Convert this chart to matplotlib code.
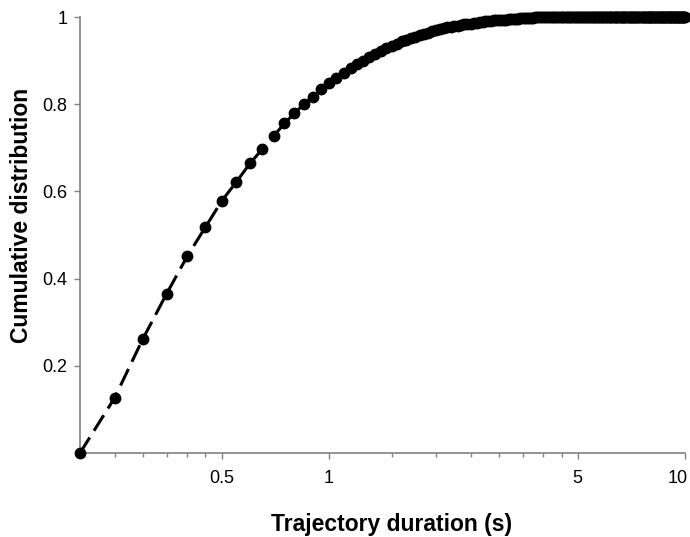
import numpy as np
import matplotlib
matplotlib.use("Agg")
import matplotlib.pyplot as plt
from matplotlib.ticker import FixedLocator, NullFormatter
from matplotlib.transforms import ScaledTranslation

plt.rcParams['font.family'] = ['Liberation Sans', 'DejaVu Sans']

# trajectory durations sampled every 0.05 s from 0.2 s to 10 s
duration = np.round(np.linspace(0.2, 10.0, 197), 2)

cdf = [
    0.000, 0.126, 0.261, 0.365, 0.451, 0.518, 0.578, 0.622, 0.664, 0.697,
    0.727, 0.756, 0.779, 0.800, 0.817, 0.834, 0.848, 0.860, 0.871, 0.882,
    0.892, 0.900, 0.908, 0.915, 0.922, 0.928, 0.934, 0.939, 0.944, 0.948,
    0.952, 0.955, 0.958, 0.961, 0.964, 0.967, 0.970, 0.972, 0.974, 0.976,
    0.977, 0.979, 0.980, 0.982, 0.983, 0.984, 0.985, 0.986, 0.987, 0.988,
    0.989, 0.990, 0.990, 0.991, 0.992, 0.992, 0.993, 0.993, 0.994, 0.994,
    0.995, 0.995, 0.996, 0.996, 0.996, 0.997, 0.997, 0.997, 0.998, 0.998,
    0.998, 0.998, 0.999, 0.999, 0.999, 0.999, 0.999, 0.999, 0.999, 1.000,
    1.000, 1.000, 1.000, 1.000, 1.000, 1.000, 1.000, 1.000, 1.000, 1.000,
    1.000, 1.000, 1.000, 1.000, 1.000, 1.000, 1.000, 1.000, 1.000, 1.000,
    1.000, 1.000, 1.000, 1.000, 1.000, 1.000, 1.000, 1.000, 1.000, 1.000,
    1.000, 1.000, 1.000, 1.000, 1.000, 1.000, 1.000, 1.000, 1.000, 1.000,
    1.000, 1.000, 1.000, 1.000, 1.000, 1.000, 1.000, 1.000, 1.000, 1.000,
    1.000, 1.000, 1.000, 1.000, 1.000, 1.000, 1.000, 1.000, 1.000, 1.000,
    1.000, 1.000, 1.000, 1.000, 1.000, 1.000, 1.000, 1.000, 1.000, 1.000,
    1.000, 1.000, 1.000, 1.000, 1.000, 1.000, 1.000, 1.000, 1.000, 1.000,
    1.000, 1.000, 1.000, 1.000, 1.000, 1.000, 1.000, 1.000, 1.000, 1.000,
    1.000, 1.000, 1.000, 1.000, 1.000, 1.000, 1.000, 1.000, 1.000, 1.000,
    1.000, 1.000, 1.000, 1.000, 1.000, 1.000, 1.000, 1.000, 1.000, 1.000,
    1.000, 1.000, 1.000, 1.000, 1.000, 1.000, 1.000,
]

x_major = [0.5, 1, 5, 10]
x_major_labels = ["0.5", "1", "5", "10"]
x_minor = [0.25, 0.3, 0.35, 0.4, 0.45, 1.5, 2, 2.5, 3, 3.5, 4, 4.5]
y_ticks = [0.2, 0.4, 0.6, 0.8, 1.0]
y_labels = ["0.2", "0.4", "0.6", "0.8", "1"]

fig = plt.figure(figsize=(6.9, 5.37), dpi=100)
ax = fig.add_axes([80 / 690, 1 - 453 / 537, 605 / 690, 436 / 537])

ax.plot(duration, cdf, color="black", lw=2.2, dashes=(6, 2.6),
        marker="o", markersize=7.5, clip_on=False, zorder=3)

ax.set_xscale("log")
ax.set_xlim(0.2, 10)
ax.set_ylim(0, 1)

ax.xaxis.set_major_locator(FixedLocator(x_major))
ax.set_xticklabels(x_major_labels)
ax.xaxis.set_minor_locator(FixedLocator(x_minor))
ax.xaxis.set_minor_formatter(NullFormatter())
ax.set_yticks(y_ticks)
ax.set_yticklabels(y_labels)

for side in ["top", "right"]:
    ax.spines[side].set_visible(False)
for side in ["left", "bottom"]:
    ax.spines[side].set_color("#808080")
    ax.spines[side].set_linewidth(1.2)

ax.tick_params(which="both", direction="out", color="#808080", width=1,
               labelsize=13, labelcolor="black")
ax.tick_params(which="major", length=4)
ax.tick_params(which="minor", length=3)
ax.tick_params(axis="x", pad=8)
ax.tick_params(axis="y", pad=5)

# the "10" label sits a little left of its tick so it stays inside the figure
last = ax.get_xticklabels()[-1]
last.set_transform(last.get_transform() + ScaledTranslation(-7 / 100, 0, fig.dpi_scale_trans))

fig.text(392 / 690, 1 - 525 / 537, "Trajectory duration (s)", ha="center",
         va="center", fontsize=16.5, fontweight="bold")
fig.text(22 / 690, 1 - 215 / 537, "Cumulative distribution", ha="center",
         va="center", rotation=90, fontsize=16.5, fontweight="bold")

fig.savefig("out.png", dpi=100)
